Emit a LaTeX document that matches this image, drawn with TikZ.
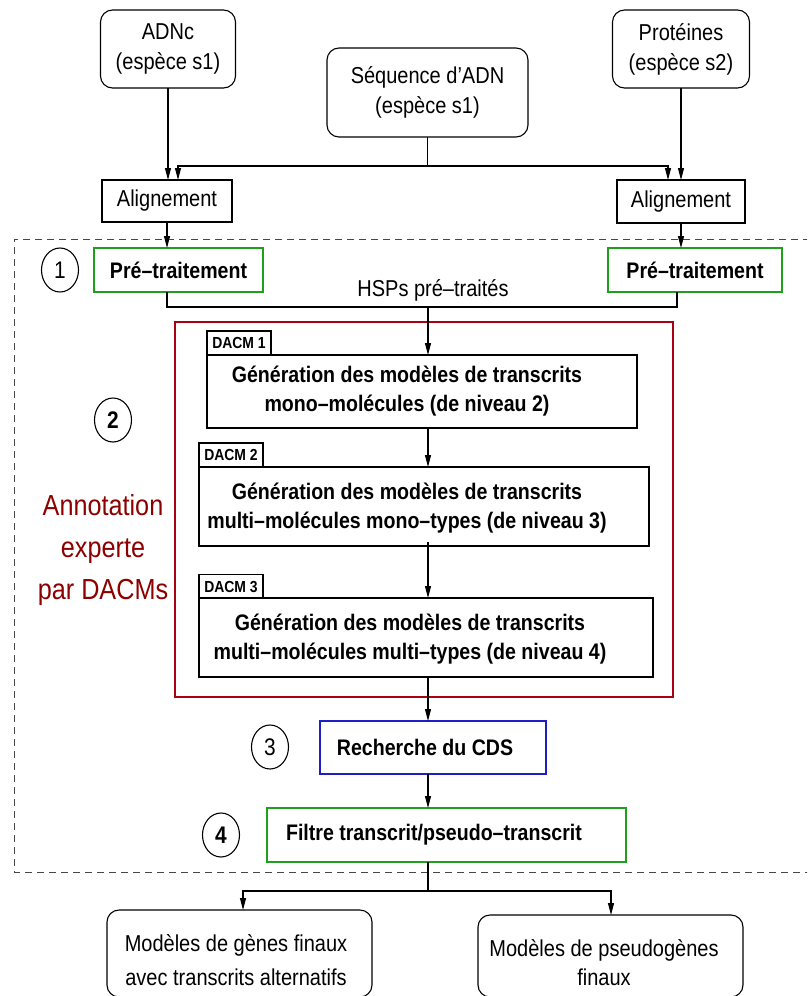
\documentclass[tikz,border=0pt]{standalone}
\usepackage{fontspec}
\setmainfont[FakeStretch=0.87]{Liberation Sans}
\usetikzlibrary{arrows.meta,shapes.geometric}
\definecolor{boxgreen}{RGB}{30,160,30}
\definecolor{boxblue}{RGB}{30,30,200}
\definecolor{boxred}{RGB}{170,0,20}
\definecolor{annot}{RGB}{140,0,0}
\definecolor{dashgray}{RGB}{70,70,70}

\begin{document}
\begin{tikzpicture}[x=1pt,y=-1pt,line width=1.1pt,
  every node/.style={inner sep=0pt,outer sep=0pt},
  regtext/.style={font=\fontsize{23}{30}\selectfont,align=center},
  boldtext/.style={font=\fontsize{22.5}{29}\selectfont\bfseries,align=center},
  srcbox/.style={draw,rectangle,rounded corners=12pt,regtext},
  plainbox/.style={draw,rectangle,regtext},
  stagebox/.style={draw,rectangle,boldtext},
  tabbox/.style={draw,rectangle,font=\fontsize{16}{16}\selectfont\bfseries,
    minimum width=64pt,minimum height=24pt},
  stepnum/.style={draw,ellipse,minimum width=37pt,minimum height=44pt,
    font=\fontsize{24}{24}\selectfont},
  arr/.style={-{Triangle[length=12pt,width=6pt]}},
]
\useasboundingbox (0,0) rectangle (807,996);
\clip (0,0) rectangle (807,996);

% ---- input data ----
\node[srcbox,minimum width=135pt,minimum height=78pt] (adnc) at (168,49)
  {ADNc\\(espèce s1)};
\node[srcbox,minimum width=201pt,minimum height=89pt] (seq) at (427.5,92.5)
  {Séquence d’ADN\\(espèce s1)};
\node[srcbox,minimum width=137pt,minimum height=78pt] (prot) at (681,49)
  {Protéines\\(espèce s2)};

% ---- alignments ----
\node[plainbox,minimum width=130pt,minimum height=42pt] (alL) at (167,201) {Alignement};
\node[plainbox,minimum width=128pt,minimum height=43pt] (alR) at (681,201.5) {Alignement};

\coordinate (jL) at (178,166);
\coordinate (jR) at (668,166);
\draw[arr] (adnc.south) -- (adnc.south |- alL.north);
\draw[arr] (prot.south) -- (prot.south |- alR.north);
\draw (seq.south) -- (seq.south |- jL);
\draw[arr] (seq.south |- jL) -- (jL) -- (jL |- alL.north);
\draw[arr] (seq.south |- jR) -- (jR) -- (jR |- alR.north);

% ---- annotation pipeline frame ----
\draw[dashgray,line width=1pt,dash pattern=on 7pt off 5pt]
  (810,239) -- (14,239) -- (14,872) -- (810,872);

% step 1
\node[stepnum] (n1) at (60,270) {1};
\node[draw=boxgreen,rectangle,boldtext,minimum width=169pt,minimum height=44pt]
  (preL) at (178.5,270) {Pré–traitement};
\node[draw=boxgreen,rectangle,boldtext,minimum width=174pt,minimum height=44pt]
  (preR) at (695,270) {Pré–traitement};
\draw[arr] (alL.south) -- (alL.south |- preL.north);
\draw[arr] (alR.south) -- (alR.south |- preR.north);

\coordinate (hL) at (167,307);
\coordinate (hR) at (677,307);
\coordinate (spine) at (428,307);
\draw (hL |- preL.south) -- (hL) -- (hR) -- (hR |- preR.south);
\node[regtext] (hsp) at (433,290) {HSPs pré–traités};

% step 2: expert annotation by DACMs
\node[draw=boxred,rectangle,minimum width=498pt,minimum height=375pt] (dacms) at (424,509.5) {};
\node[stepnum,font=\fontsize{24}{24}\selectfont\bfseries] (n2) at (113,420) {2};
\node[font=\fontsize{29}{42}\selectfont,text=annot,align=center] (annot) at (103,550)
  {Annotation\\experte\\par DACMs};

\node[draw,rectangle,minimum width=430pt,minimum height=73pt] (box1) at (422,391.5) {};
\node[tabbox] (tab1) at (239,343) {DACM 1};
\node[boldtext] (box1t) at (407,391.5)
  {Génération des modèles de transcrits\\mono–molécules (de niveau 2)};

\node[draw,rectangle,minimum width=450pt,minimum height=79pt] (box2) at (424,506.5) {};
\node[tabbox] (tab2) at (231,455) {DACM 2};
\node[boldtext] (box2t) at (407,508.5)
  {Génération des modèles de transcrits\\multi–molécules mono–types (de niveau 3)};

\node[draw,rectangle,minimum width=454pt,minimum height=79pt] (box3) at (426,637.5) {};
\node[tabbox] (tab3) at (231,586.5) {DACM 3};
\node[boldtext] (box3t) at (410,639)
  {Génération des modèles de transcrits\\multi–molécules multi–types (de niveau 4)};

\draw[arr] (spine) -- (spine |- box1.north);
\draw[arr] (spine |- box1.south) -- (spine |- box2.north);
\draw[arr] ([yshift=4pt]spine |- box2.south) -- (spine |- box3.north);

% step 3
\node[stepnum] (n3) at (270,747) {3};
\node[draw=boxblue,rectangle,minimum width=226pt,minimum height=53pt] (cds) at (433,747.5) {};
\node[boldtext] (cdst) at (425,747) {Recherche du CDS};
\draw[arr] (spine |- box3.south) -- (spine |- cds.north);

% step 4
\node[stepnum,font=\fontsize{24}{24}\selectfont\bfseries] (n4) at (221,835) {4};
\node[draw=boxgreen,rectangle,minimum width=359pt,minimum height=54pt] (filt) at (446.5,835) {};
\node[boldtext] (filtt) at (434,835) {Filtre transcrit/pseudo–transcrit};
\draw[arr] (spine |- cds.south) -- (spine |- filt.north);

% ---- final outputs ----
\node[draw,rectangle,rounded corners=12pt,minimum width=265pt,minimum height=87pt] (finL) at (239.5,953.5) {};
\node[draw,rectangle,rounded corners=12pt,minimum width=265pt,minimum height=82pt] (finR) at (610.5,956) {};
\node[font=\fontsize{23}{34}\selectfont,align=center] (finLt) at (236,960)
  {Modèles de gènes finaux\\avec transcrits alternatifs};
\node[font=\fontsize{23}{29}\selectfont,align=center] (finRt) at (604,962.5)
  {Modèles de pseudogènes\\finaux};

\coordinate (split) at (428,891);
\coordinate (sL) at (243,891);
\coordinate (sR) at (611,891);
\draw (spine |- filt.south) -- (split);
\draw[arr] (split) -- (sL) -- (sL |- finL.north);
\draw[arr] (split) -- (sR) -- (sR |- finR.north);
\end{tikzpicture}
\end{document}
